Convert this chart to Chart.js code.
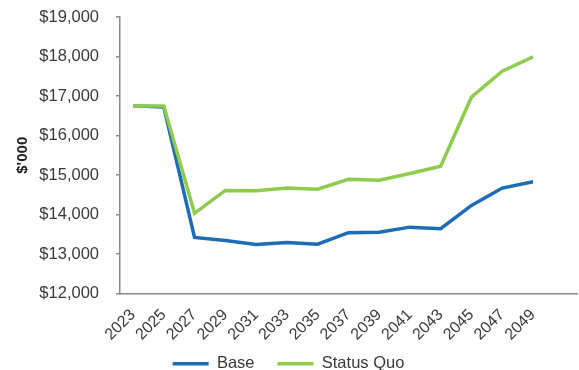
<!DOCTYPE html>
<html>
<head>
<meta charset="utf-8">
<script src="https://cdn.jsdelivr.net/npm/chart.js@4"></script>
<style>
  html, body { margin: 0; padding: 0; background: #fff; }
  #wrap { width: 579px; height: 370px; }
</style>
</head>
<body>
<div id="wrap"><canvas id="costChart" width="579" height="370"></canvas></div>
<script>
// Cost projection, $'000, every second year
const years = [2023, 2025, 2027, 2029, 2031, 2033, 2035, 2037, 2039, 2041, 2043, 2045, 2047, 2049];
const baseValues = [16750, 16720, 13420, 13340, 13240, 13290, 13250, 13540, 13550, 13680, 13640, 14230, 14670, 14830];
const statusQuoValues = [16750, 16750, 14030, 14610, 14600, 14670, 14640, 14890, 14870, 15040, 15220, 16970, 17630, 17990];
const yTicks = [12000, 13000, 14000, 15000, 16000, 17000, 18000, 19000];

const FONT = "'Liberation Sans', Arial, sans-serif";
const TEXT = '#3a3a3a';
const AXIS = '#8a8a8a';

const toPoints = vals => vals.map((v, i) => ({ x: years[i], y: v }));

// the rotated year labels need more room than the layout gives them,
// and the legend sits a little lower, close to the bottom edge
const bottomSpace = {
  id: 'bottomSpace',
  afterLayout(chart) {
    const x = chart.scales.x;
    x.bottom = x.top + 50;
    chart.legend.top += 12;
    chart.legend.bottom += 12;
  }
};

const ctx = document.getElementById('costChart').getContext('2d');

new Chart(ctx, {
  type: 'line',
  data: {
    datasets: [
      {
        label: 'Base',
        data: toPoints(baseValues),
        borderColor: '#1c6cb6',
        backgroundColor: '#1c6cb6',
        borderWidth: 3.5,
        pointRadius: 0,
        tension: 0,
        order: 1
      },
      {
        label: 'Status Quo',
        data: toPoints(statusQuoValues),
        borderColor: '#8fcb4c',
        backgroundColor: '#8fcb4c',
        borderWidth: 3.5,
        pointRadius: 0,
        tension: 0,
        order: 0
      }
    ]
  },
  plugins: [bottomSpace],
  options: {
    responsive: false,
    animation: false,
    layout: { padding: { top: 17, right: 2, left: 0, bottom: 0 } },
    plugins: {
      tooltip: { enabled: false },
      legend: {
        position: 'bottom',
        labels: {
          usePointStyle: true,
          pointStyle: 'line',
          pointStyleWidth: 36,
          padding: 23,
          color: TEXT,
          font: { family: FONT, size: 16.5 },
          sort: (a, b) => a.datasetIndex - b.datasetIndex
        }
      }
    },
    scales: {
      x: {
        type: 'linear',
        min: 2022.155,
        max: 2051.86,
        afterBuildTicks: scale => { scale.ticks = years.map(y => ({ value: y })); },
        afterFit: scale => { scale.height = 27; },
        border: { display: true, color: AXIS, width: 1.5 },
        grid: { display: false },
        ticks: {
          autoSkip: false,
          minRotation: 45,
          maxRotation: 45,
          padding: 4,
          color: TEXT,
          font: { family: FONT, size: 16 },
          callback: v => String(v)
        }
      },
      y: {
        min: 12000,
        max: 19000,
        afterBuildTicks: scale => { scale.ticks = yTicks.map(v => ({ value: v })); },
        afterFit: scale => {
          scale.width = 120;
          scale.paddingTop = 0;
          scale.paddingBottom = 0;
        },
        border: { display: true, color: AXIS, width: 1.5 },
        grid: { drawOnChartArea: false, drawTicks: true, tickLength: 4, color: AXIS, lineWidth: 1.5 },
        title: {
          display: true,
          text: "$'000",
          color: '#222',
          font: { family: FONT, size: 15, weight: 'bold' },
          padding: { top: 14, bottom: 0 }
        },
        ticks: {
          padding: 17,
          color: TEXT,
          font: { family: FONT, size: 16.5 },
          callback: v => '$' + v.toLocaleString('en-US')
        }
      }
    }
  }
});
</script>
</body>
</html>
